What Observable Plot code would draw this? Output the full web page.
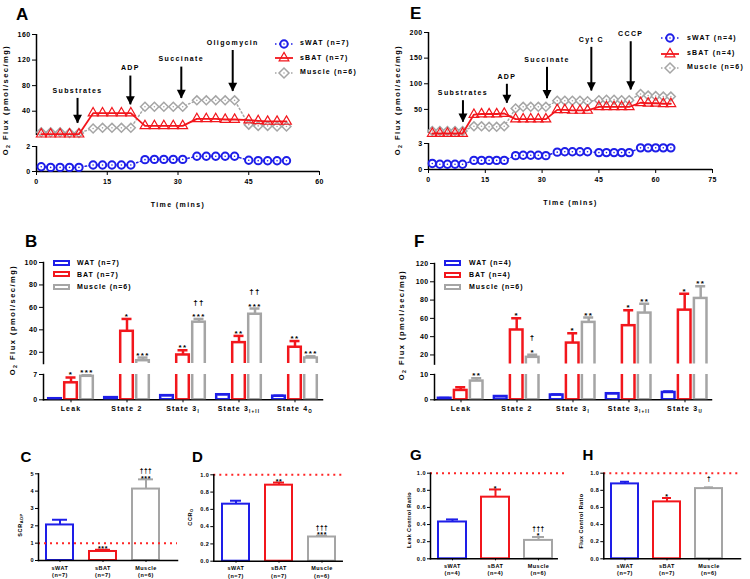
<!DOCTYPE html>
<html><head><meta charset="utf-8">
<script src="https://cdn.jsdelivr.net/npm/d3@7"></script>
<script src="https://cdn.jsdelivr.net/npm/@observablehq/plot@0.6"></script>
<style>
html,body{margin:0;padding:0;background:#fff;}
#root{position:relative;width:750px;height:579px;overflow:hidden;background:#fff;font-family:'Liberation Sans',Arial,sans-serif;font-weight:bold;color:#000;}
.lbl{position:absolute;white-space:nowrap;line-height:1;}
.ylab{position:absolute;white-space:nowrap;line-height:1;transform:translate(-50%,-50%) rotate(-90deg);}
sub{font-size:70%;vertical-align:-0.3em;line-height:0;}
svg g[aria-label="text"]{letter-spacing:1.4px;}
svg g[aria-label="x-axis label"]{letter-spacing:1.4px;}
svg g[aria-label="fx-axis tick label"]{letter-spacing:1.2px;}
svg.small g[aria-label="text"]{letter-spacing:0.6px;}
</style></head>
<body><div id="root"></div>
<script>
// ---------- colours ----------
const BLUE = "#1e1ee8", RED = "#f2161c", GRAY = "#a5a5a5", DOTRED = "#ff2525";
const FONT = "'Liberation Sans', Arial, Helvetica, sans-serif";

// ---------- Panel A data ----------
const timeA = [1,3,5,7,9, 12,14,16,18,20, 23,25,27,29,31, 34,36,38,40,42, 45,47,49,51,53];
const swatA = [0.38,0.33,0.33,0.33,0.33, 0.52,0.52,0.52,0.52,0.52, 0.95,0.97,0.97,0.97,0.97, 1.22,1.22,1.22,1.22,1.22, 0.9,0.87,0.86,0.86,0.86];
const sbatA = [4,4,4,4,4, 37,37,37,37,37, 17,17,17,17,17, 28,28,28,27,27, 26,25,24,24,24];
const muscleA = [7,7,7,6,6, 13,14,14,14,14, 47,47,47,47,47, 57,57,57,57,57, 19,17,17,16,16];
const legendA = ["sWAT (n=7)", "sBAT (n=7)", "Muscle (n=6)"];
const arrowNameA = ["Substrates", "ADP", "Succinate", "Oligomycin"];
const arrowTimeA = [8.7, 19.9, 30.7, 41.6];
const arrowTopA = [60, 95, 109, 135];
const arrowTipA = [21, 50, 60, 71];
const xTicksA = [0, 15, 30, 45, 60];
const yTopTicksA = [40, 80, 120, 160];
const yBotTicksA = [0, 2];

// ---------- Panel E data ----------
const timeE = [1,3,5,7,9, 12,14,16,18,20, 23,25,27,29,31, 34,36,38,40,42, 45,47,49,51,53, 56,58,60,62,64];
const swatE = [0.7,0.6,0.6,0.6,0.6, 1.05,1.05,1.05,1.05,1.05, 1.6,1.65,1.65,1.65,1.6, 2.0,2.05,2.05,2.05,2.05, 1.95,1.95,1.95,1.95,1.95, 2.5,2.5,2.5,2.5,2.5];
const sbatE = [3,3,3,3,3, 40,41,41,41,42, 31,31,31,31,31, 49,49,48,48,48, 55,55,55,55,55, 63,62,62,61,61];
const muscleE = [8,8,8,8,8, 17,17,16,16,17, 52,55,55,55,55, 67,67,67,67,66, 68,69,69,68,68, 80,77,76,75,75];
const legendE = ["sWAT (n=4)", "sBAT (n=4)", "Muscle (n=6)"];
const arrowNameE = ["Substrates", "ADP", "Succinate", "Cyt C", "CCCP"];
const arrowTimeE = [9.1, 20.7, 31.3, 43, 53.4];
const arrowTopE = [67, 99, 132, 171, 182];
const arrowTipE = [25, 62, 71, 86, 88];
const xTicksE = [0, 15, 30, 45, 60, 75];
const yTopTicksE = [50, 100, 150, 200];
const yBotTicksE = [0, 3];

// ---------- Panel B data ----------
const seriesB = ["WAT", "BAT", "Muscle"];
const legendB = ["WAT (n=7)", "BAT (n=7)", "Muscle (n=6)"];
const catBaseB = ["Leak", "State 2", "State 3", "State 3", "State 4"];
const catSubB = ["", "", "I", "I+II", "O"];
const watB = [0.3, 0.6, 1.15, 1.4, 1.0];
const watErrB = [0.35, 0.7, 1.25, 1.55, 1.1];
const batB = [4.7, 38.7, 17.6, 28.6, 24.5];
const batErrB = [6.2, 49.7, 21.8, 34.6, 30.0];
const musB = [6.5, 12.5, 46.8, 53.9, 14.9];
const musErrB = [6.9, 15.3, 49.7, 59.0, 16.4];
const watSigB = ["", "", "", "", ""];
const batSigB = ["*", "*", "**", "**", "**"];
const musSigB = ["***", "***", "***", "***", "***"];
const musDagB = ["", "", "††", "††", ""];
const yTopTicksB = [20, 40, 60, 80, 100];
const yBotTicksB = [0, 7];

// ---------- Panel F data ----------
const legendF = ["WAT (n=4)", "BAT (n=4)", "Muscle (n=6)"];
const catBaseF = ["Leak", "State 2", "State 3", "State 3", "State 3"];
const catSubF = ["", "", "I", "I+II", "U"];
const watF = [0.6, 1.3, 1.9, 2.4, 2.9];
const watErrF = [0.7, 1.45, 2.05, 2.6, 3.3];
const batF = [3.7, 47.3, 33, 52, 69];
const batErrF = [5, 60, 43.6, 69, 87];
const musF = [7.4, 17.4, 55.6, 65.8, 81.8];
const musErrF = [8.5, 20.3, 61, 76, 95];
const watSigF = ["", "", "", "", ""];
const batSigF = ["", "*", "*", "*", "*"];
const musSigF = ["**", "*", "**", "**", "**"];
const musDagF = ["", "†", "", "", ""];
const yTopTicksF = [20, 40, 60, 80, 100, 120];
const yBotTicksF = [0, 10];

// ---------- Panels C, D, G, H ----------
const groupsCD = ["sWAT", "sBAT", "Muscle"];
const nCD = [7, 7, 6];
const nG = [4, 4, 6];
const nH = [7, 7, 6];
const valC = [2.05, 0.52, 4.12], errC = [2.35, 0.62, 4.68];
const sigC = ["", "***", "***"], dagC = ["", "", "†††"];
const valD = [0.66, 0.88, 0.28], errD = [0.70, 0.91, 0.294];
const sigD = ["", "**", "***"], dagD = ["", "", "†††"];
const valG = [0.43, 0.72, 0.215], errG = [0.46, 0.81, 0.255];
const sigG = ["", "*", "*"], dagG = ["", "", "†††"];
const valH = [0.875, 0.665, 0.82], errH = [0.90, 0.71, 0.835];
const sigH = ["", "*", ""], dagH = ["", "", "†"];
const ticksC = [0, 1, 2, 3, 4, 5];
const ticksRatio = [0, 0.2, 0.4, 0.6, 0.8, 1.0];
const refLine = [1];

// ---------- helpers ----------
const root = document.getElementById("root");
const intFmt = d3.format("d");
function put(el, x, y) { el.style.position = "absolute"; el.style.left = x + "px"; el.style.top = y + "px"; root.appendChild(el); return el; }
function html(str, x, y, css, cls) { const d = document.createElement("div"); d.className = cls || "lbl"; d.innerHTML = str; if (css) d.style.cssText = css; return put(d, x, y); }
function letter(t, x, baseline, fs) { html(t, x, baseline - fs * 0.846, `font-size:${fs}px`); }
function ylab(str, cx, cy, fs, ls) { html(str, cx, cy, `font-size:${fs}px;letter-spacing:${ls}px`, "ylab"); }
function st(fs, ls) { return `background:transparent;overflow:visible;font-family:${FONT};font-size:${fs}px;font-weight:bold;letter-spacing:${ls}px;color:#000;`; }

const arrowHead = { draw(ctx, size) { const s = Math.sqrt(size); const hw = 0.7 * s, h = 1.35 * s; ctx.moveTo(-hw, -h); ctx.lineTo(hw, -h); ctx.lineTo(0, 0); ctx.closePath(); } };

function markerSvg(kind) {
  let inner = "";
  if (kind === 0) inner = `<line x1="-9" x2="9" y1="0" y2="0" stroke="${BLUE}" stroke-width="1.5" stroke-dasharray="1.5,2.5"/><circle r="3.7" fill="#fff" stroke="${BLUE}" stroke-width="2"/><circle r="0.8" fill="${BLUE}"/>`;
  if (kind === 1) inner = `<line x1="-9" x2="9" y1="0" y2="0" stroke="${RED}" stroke-width="1.8"/><polygon points="0,-5.6 4.85,2.8 -4.85,2.8" fill="none" stroke="${RED}" stroke-width="1.2"/>`;
  if (kind === 2) inner = `<line x1="-9" x2="9" y1="0" y2="0" stroke="${GRAY}" stroke-width="1.5" stroke-dasharray="1.5,2.5"/><polygon points="0,-5 5,0 0,5 -5,0" fill="#fff" stroke="${GRAY}" stroke-width="1.5"/><circle r="0.8" fill="${GRAY}"/>`;
  return `<svg width="20" height="12" viewBox="-10 -6 20 12" style="overflow:visible">${inner}</svg>`;
}
function lineLegend(names, cx, ys, tx) {
  names.forEach((nm, i) => {
    html(markerSvg(i), cx - 10, ys[i] - 6);
    html(nm, tx, ys[i] - 3.6, "font-size:7px;letter-spacing:1.2px");
  });
}
function boxLegend(names, x, ys, tx) {
  const cols = [BLUE, RED, GRAY];
  names.forEach((nm, i) => {
    const b = document.createElement("div");
    b.style.cssText = `width:13px;height:2px;border:2px solid ${cols[i]};box-sizing:content-box;`;
    put(b, x, ys[i] - 3);
    html(nm, tx, ys[i] - 3.6, "font-size:7px;letter-spacing:1px");
  });
}

// ---------- time course panels ----------
function timePanel(o) {
  const rows = o.time.map((t, i) => ({t, swat: o.swat[i], sbat: o.sbat[i], muscle: o.muscle[i]}));
  const arrows = o.arrowName.map((name, i) => ({name, t: o.arrowTime[i], top: o.arrowTop[i], tip: o.arrowTip[i]}));
  const top = Plot.plot({
    width: o.width, height: o.topFrame[1] + 1, marginTop: o.topFrame[0], marginBottom: 1,
    marginLeft: o.mL, marginRight: o.mR, style: st(7, 0.4),
    x: {domain: [0, o.xMax], axis: null},
    y: {domain: o.topDomain, ticks: o.topTicks, tickFormat: intFmt, tickSize: 4, tickPadding: 2, label: null},
    marks: [
      Plot.ruleX([0], {stroke: "#000", strokeWidth: 1.5}),
      Plot.line(rows, {x: "t", y: "muscle", stroke: GRAY, strokeWidth: 1.5, strokeDasharray: "1.5,2.5"}),
      Plot.dot(rows, {x: "t", y: "muscle", symbol: "diamond2", r: 4, stroke: GRAY, strokeWidth: 1.5, fill: "white"}),
      Plot.dot(rows, {x: "t", y: "muscle", r: 0.8, fill: GRAY}),
      Plot.line(rows, {x: "t", y: "sbat", stroke: RED, strokeWidth: 1.8}),
      Plot.dot(rows, {x: "t", y: "sbat", symbol: "triangle", r: 3.6, stroke: RED, strokeWidth: 1.2, fill: "none"}),
      Plot.ruleX(arrows, {x: "t", y1: "top", y2: "tip", stroke: "#000", strokeWidth: 2}),
      Plot.dot(arrows, {x: "t", y: "tip", symbol: arrowHead, r: 3.6, fill: "#000", stroke: "none"}),
      Plot.text(arrows, {x: "t", y: "top", text: "name", dy: -8, fontSize: 7, fill: "#000"})
    ]
  });
  put(top, o.left, 0);
  const bh = (o.botFrame[1] - o.botFrame[0]) + 6 + 39;
  const bot = Plot.plot({
    width: o.width, height: bh, marginTop: 6, marginBottom: 39, marginLeft: o.mL, marginRight: o.mR,
    style: st(7, 0.4),
    x: {domain: [0, o.xMax], ticks: o.xTicks, tickFormat: intFmt, tickSize: 4, tickPadding: 4, label: "Time (mins)", labelAnchor: "center", labelOffset: 35, labelArrow: "none"},
    y: {domain: o.botDomain, ticks: o.botTicks, tickFormat: intFmt, tickSize: 4, tickPadding: 2, label: null},
    marks: [
      Plot.ruleX([0], {stroke: "#000", strokeWidth: 1.5}),
      Plot.ruleY([0], {stroke: "#000", strokeWidth: 1.5}),
      Plot.line(rows, {x: "t", y: "swat", stroke: BLUE, strokeWidth: 1.5, strokeDasharray: "1.5,2.5"}),
      Plot.dot(rows, {x: "t", y: "swat", r: 3.7, stroke: BLUE, strokeWidth: 2, fill: "white"}),
      Plot.dot(rows, {x: "t", y: "swat", r: 0.8, fill: BLUE})
    ]
  });
  put(bot, o.left, o.botFrame[0] - 6);
}

// ---------- broken-axis grouped bars ----------
function subTicks(svg, keys, bases, subs) {
  svg.querySelectorAll('g[aria-label="fx-axis tick label"] text').forEach(t => {
    const i = keys.indexOf(t.textContent);
    if (i >= 0 && subs[i]) {
      t.textContent = bases[i];
      const ts = document.createElementNS("http://www.w3.org/2000/svg", "tspan");
      ts.setAttribute("font-size", "4.5");
      ts.setAttribute("dy", "2");
      ts.textContent = subs[i];
      t.appendChild(ts);
    }
  });
}
function brokenPanel(o) {
  const cats = o.bases.map((b, i) => b + o.subs[i]);
  const rows = [];
  cats.forEach((c, i) => seriesB.forEach((s, j) => rows.push({c, s, v: o.vals[j][i], e: o.errs[j][i], sig: o.sig[j][i], dag: o.dag[j][i]})));
  const fxOpt = {domain: cats, paddingInner: o.fpi, paddingOuter: o.fpo, align: 0, label: null};
  const xOpt = {domain: seriesB, paddingInner: 0.05, paddingOuter: o.xpo, axis: null};
  const color = {domain: seriesB, range: [BLUE, RED, GRAY]};
  const marks = (dom) => {
    const vis = rows.filter(d => d.e >= dom[0] && d.e <= dom[1]);
    return [
      Plot.barY(rows, {fx: "c", x: "s", y1: 0, y2: "v", stroke: "s", fill: "white", strokeWidth: 2.5, insetLeft: 1.2, insetRight: 1.2, clip: true}),
      Plot.ruleX(rows, {fx: "c", x: "s", y1: "v", y2: "e", stroke: "s", strokeWidth: 2.5, clip: true}),
      Plot.tickY(rows, {fx: "c", x: "s", y: "e", stroke: "s", strokeWidth: 2.5, insetLeft: 2.5, insetRight: 2.5, clip: true}),
      Plot.text(vis, {fx: "c", x: "s", y: "e", text: "sig", dy: -2.5, fontSize: 8}),
      Plot.text(vis, {fx: "c", x: "s", y: "e", text: "dag", dy: -17, fontSize: 8})
    ];
  };
  const top = Plot.plot({
    width: o.width, height: (o.topFrame[1] - o.topFrame[0]) + 7 + 1, marginTop: 7, marginBottom: 1,
    marginLeft: o.mL, marginRight: o.mR, style: st(7, 0.4),
    fx: {...fxOpt, axis: null}, x: xOpt, color,
    y: {domain: o.topDomain, ticks: o.topTicks, tickFormat: intFmt, tickSize: 4, tickPadding: 2, label: null},
    marks: [Plot.frame({anchor: "left", facet: "super", strokeWidth: 1.5}), ...marks(o.topDomain)]
  });
  put(top, o.left, o.topFrame[0] - 7);
  const bot = Plot.plot({
    width: o.width, height: (o.botFrame[1] - o.botFrame[0]) + 10 + 20, marginTop: 10, marginBottom: 20,
    marginLeft: o.mL, marginRight: o.mR, style: st(7, 0.4),
    fx: {...fxOpt, axis: "bottom", tickSize: 3, tickPadding: 3}, x: xOpt, color,
    y: {domain: o.botDomain, ticks: o.botTicks, tickFormat: intFmt, tickSize: 4, tickPadding: 2, label: null},
    marks: [Plot.frame({anchor: "left", facet: "super", strokeWidth: 1.5}), Plot.frame({anchor: "bottom", facet: "super", strokeWidth: 1.5}), ...marks(o.botDomain)]
  });
  subTicks(bot, cats, o.bases, o.subs);
  put(bot, o.left, o.botFrame[0] - 10);
}

// ---------- small ratio bar panels ----------
function smallPanel(o) {
  const rows = groupsCD.map((g, i) => ({g, n: o.n[i], v: o.vals[i], e: o.errs[i], sig: o.sig[i], dag: o.dag[i]}));
  const p = Plot.plot({
    width: o.width, height: 140, marginTop: o.frameTop - 440, marginBottom: 580 - o.frameBot,
    marginLeft: o.axisX - o.left, marginRight: o.left + o.width - o.axisEnd,
    className: "small", style: st(5.5, 0.5),
    x: {domain: groupsCD, paddingInner: o.pi, paddingOuter: o.po, align: o.align},
    y: {domain: o.yDomain, ticks: o.yTicks, tickFormat: o.yFmt, tickSize: 3, tickPadding: 1.5, label: null},
    color: {domain: groupsCD, range: [BLUE, RED, GRAY]},
    marks: [
      Plot.barY(rows, {x: "g", y: "v", stroke: "g", fill: "white", strokeWidth: 2, insetLeft: 1, insetRight: 1}),
      Plot.ruleX(rows, {x: "g", y1: "v", y2: "e", stroke: "g", strokeWidth: 2}),
      Plot.tickY(rows, {x: "g", y: "e", stroke: "g", strokeWidth: 2, insetLeft: o.cap, insetRight: o.cap}),
      Plot.ruleY(refLine, {stroke: DOTRED, strokeWidth: 2, strokeDasharray: "2,4", insetRight: o.ext || 0}),
      Plot.text(rows, {x: "g", y: "e", text: "sig", dy: -1, fontSize: 7}),
      Plot.text(rows, {x: "g", y: "e", text: "dag", dy: -8, fontSize: 6.5}),
      Plot.axisX({tickSize: 2, tickPadding: 2, lineHeight: 1.35, tickFormat: (d) => `${d}\n(n=${o.n[groupsCD.indexOf(d)]})`, label: null}),
      Plot.frame({anchor: "left", strokeWidth: 1.5}),
      Plot.frame({anchor: "bottom", strokeWidth: 1.5})
    ]
  });
  put(p, o.left, 440);
}

// ---------- draw ----------
timePanel({time: timeA, swat: swatA, sbat: sbatA, muscle: muscleA, arrowName: arrowNameA, arrowTime: arrowTimeA, arrowTop: arrowTopA, arrowTip: arrowTipA,
  left: 0, width: 370, mL: 36, mR: 51, xMax: 60, xTicks: xTicksA, topDomain: [2, 160], topTicks: yTopTicksA, botDomain: [0, 2], botTicks: yBotTicksA,
  topFrame: [34, 135], botFrame: [146, 171]});
timePanel({time: timeE, swat: swatE, sbat: sbatE, muscle: muscleE, arrowName: arrowNameE, arrowTime: arrowTimeE, arrowTop: arrowTopE, arrowTip: arrowTipE,
  left: 375, width: 375, mL: 53, mR: 38, xMax: 75, xTicks: xTicksE, topDomain: [3, 200], topTicks: yTopTicksE, botDomain: [0, 3], botTicks: yBotTicksE,
  topFrame: [32, 133], botFrame: [143, 169]});
lineLegend(legendA, 283.5, [42.7, 57.3, 71.7], 300);
lineLegend(legendE, 670, [37.3, 52.7, 67], 687);

brokenPanel({bases: catBaseB, subs: catSubB, vals: [watB, batB, musB], errs: [watErrB, batErrB, musErrB], sig: [watSigB, batSigB, musSigB], dag: [watSigB, watSigB, musDagB],
  left: 0, width: 370, mL: 43, mR: 25, fpi: 0.0106, fpo: 0.178, xpo: 0.225,
  topDomain: [10, 100], topTicks: yTopTicksB, botDomain: [0, 7], botTicks: yBotTicksB, topFrame: [262.3, 363.3], botFrame: [374, 399.3]});
brokenPanel({bases: catBaseF, subs: catSubF, vals: [watF, batF, musF], errs: [watErrF, batErrF, musErrF], sig: [watSigF, batSigF, musSigF], dag: [watSigF, watSigF, musDagF],
  left: 375, width: 375, mL: 59.3, mR: 32, fpi: 0.047, fpo: 0.023, xpo: 0.144,
  topDomain: [10, 120], topTicks: yTopTicksF, botDomain: [0, 10], botTicks: yBotTicksF, topFrame: [262.7, 363.3], botFrame: [374, 399.3]});
boxLegend(legendB, 53, [262.7, 274.3, 286.7], 77);
boxLegend(legendF, 444.3, [263, 275, 287], 469);

smallPanel({left: 0, width: 190, axisX: 38, axisEnd: 177, frameTop: 473.3, frameBot: 560, n: nCD, vals: valC, errs: errC, sig: sigC, dag: dagC,
  yDomain: [0, 5], yTicks: ticksC, yFmt: d3.format("d"), pi: 0.333, po: 0.264, align: 0.3, cap: 7});
smallPanel({left: 185, width: 190, axisX: 213.3, axisEnd: 341.7, frameTop: 474.3, frameBot: 560.7, n: nCD, vals: valD, errs: errD, sig: sigD, dag: dagD,
  yDomain: [0, 1], yTicks: ticksRatio, yFmt: d3.format(".1f"), pi: 0.333, po: 0.142, align: 0.54, cap: 9});
smallPanel({left: 375, width: 190, axisX: 430, axisEnd: 556.7, frameTop: 472.7, frameBot: 558.3, n: nG, vals: valG, errs: errG, sig: sigG, dag: dagG,
  yDomain: [0, 1], yTicks: ticksRatio, yFmt: d3.format(".1f"), pi: 0.30, po: 0.12, align: 0.66, cap: 9, ext: -11});
smallPanel({left: 560, width: 190, axisX: 603.3, axisEnd: 740, frameTop: 472.7, frameBot: 558.3, n: nH, vals: valH, errs: errH, sig: sigH, dag: dagH,
  yDomain: [0, 1], yTicks: ticksRatio, yFmt: d3.format(".1f"), pi: 0.30, po: 0.24, align: 0.28, cap: 10});

// ---------- panel letters and axis titles ----------
letter("A", 16, 20, 17); letter("E", 410, 19.5, 17);
letter("B", 25, 247, 17); letter("F", 414, 247, 17);
letter("C", 20.5, 462, 15); letter("D", 192, 462, 15);
letter("G", 410, 460, 15); letter("H", 582.5, 460, 15);
const fluxTitle = "O<sub>2</sub> Flux (pmol/sec/mg)";
ylab(fluxTitle, 6, 100, 7.5, 1.5);
ylab(fluxTitle, 398, 100, 7.5, 1.5);
ylab(fluxTitle, 12.5, 320, 7.5, 1.5);
ylab(fluxTitle, 402, 325, 7.5, 1.5);
ylab("SCR<sub>ADP</sub>", 20.5, 525, 5.5, 0.6);
ylab("CCR<sub>O</sub>", 191, 517, 5.5, 0.6);
ylab("Leak Control Ratio", 410, 520, 5.5, 0.4);
ylab("Flux Control Ratio", 582, 521, 5.5, 0.4);
</script></body></html>
